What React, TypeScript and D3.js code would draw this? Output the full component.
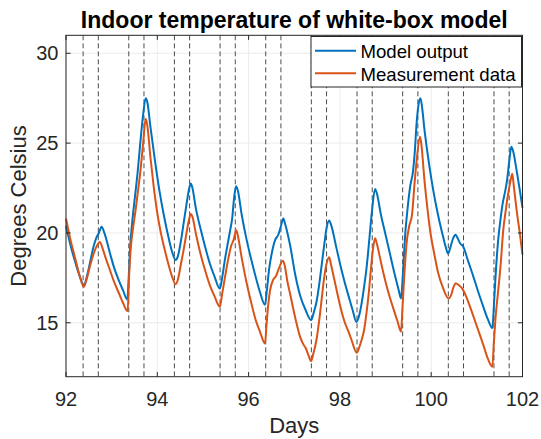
import React from "react";
import * as d3 from "d3";

const xTicks = [92, 94, 96, 98, 100, 102];
const yTicks = [15, 20, 25, 30];
const eventDays = [
  92.375, 92.708, 93.375, 93.708, 94.375, 94.708, 95.375, 95.708, 96.375, 96.708,
  97.375, 97.708, 98.375, 98.708, 99.375, 99.708, 100.375, 100.708, 101.375, 101.708,
];

const modelOutput: [number, number][] = [
  [92.0, 20.4], [92.1, 19.3], [92.2, 18.4], [92.3, 17.6], [92.39, 17.1],
  [92.46, 17.6], [92.53, 18.4], [92.6, 19.2], [92.66, 19.7], [92.72, 20.0], [92.78, 20.35],
  [92.84, 20.0], [92.96, 18.9], [93.05, 18.1], [93.15, 17.4], [93.25, 16.8], [93.34, 16.3],
  [93.37, 17.3], [93.4, 19.0], [93.45, 20.6], [93.51, 22.0], [93.57, 23.4], [93.62, 24.8],
  [93.69, 26.6], [93.745, 27.5], [93.78, 27.3],
  [93.85, 25.9], [93.95, 24.0], [94.05, 22.3], [94.15, 20.9], [94.25, 19.7], [94.33, 18.9], [94.4, 18.5],
  [94.45, 18.7], [94.52, 19.6], [94.58, 20.6], [94.64, 21.6], [94.7, 22.5], [94.735, 22.75], [94.76, 22.6],
  [94.85, 21.3], [94.95, 20.2], [95.05, 19.2], [95.15, 18.3], [95.25, 17.6], [95.37, 16.9],
  [95.42, 17.5], [95.48, 18.5], [95.55, 19.5], [95.6, 20.2], [95.64, 20.8], [95.68, 21.9], [95.725, 22.6], [95.76, 22.4],
  [95.85, 21.0], [95.95, 19.7], [96.05, 18.6], [96.15, 17.6], [96.25, 16.7], [96.36, 16.0],
  [96.4, 16.8], [96.45, 18.0], [96.51, 18.9], [96.58, 19.6], [96.65, 19.9], [96.71, 20.4], [96.76, 20.8],
  [96.8, 20.5], [96.91, 19.3], [97.02, 17.7], [97.13, 16.5], [97.25, 15.7], [97.37, 15.15],
  [97.42, 15.5], [97.49, 16.2], [97.55, 17.2], [97.6, 18.2], [97.66, 19.4], [97.71, 20.3], [97.765, 20.7], [97.8, 20.5],
  [97.93, 19.1], [98.02, 18.1], [98.11, 17.2], [98.2, 16.4], [98.28, 15.7], [98.36, 15.05],
  [98.41, 15.3], [98.47, 16.0], [98.53, 17.0], [98.59, 18.2], [98.65, 19.8], [98.71, 21.4], [98.77, 22.45], [98.81, 22.2],
  [98.9, 21.0], [99.0, 19.9], [99.1, 18.8], [99.2, 17.7], [99.28, 16.9], [99.34, 16.35],
  [99.37, 17.3], [99.4, 18.6], [99.43, 19.9], [99.48, 21.3], [99.54, 22.6], [99.6, 23.4], [99.64, 24.5],
  [99.68, 26.1], [99.72, 27.1], [99.765, 27.5], [99.8, 27.0],
  [99.85, 25.8], [99.95, 23.9], [100.05, 22.3], [100.15, 21.0], [100.25, 19.9], [100.32, 19.2], [100.37, 18.85],
  [100.42, 19.2], [100.48, 19.7], [100.535, 19.9], [100.58, 19.7], [100.64, 19.4], [100.7, 19.25],
  [100.8, 18.5], [100.92, 17.6], [101.02, 16.8], [101.1, 16.2], [101.24, 15.2], [101.34, 14.7],
  [101.37, 15.8], [101.41, 17.6], [101.46, 19.4], [101.52, 20.8], [101.57, 21.7], [101.61, 22.2],
  [101.66, 22.9], [101.71, 24.0], [101.755, 24.8], [101.79, 24.6], [101.87, 23.5], [101.94, 22.4], [102.0, 21.4],
];

const measurementData: [number, number][] = [
  [92.0, 20.8], [92.1, 19.6], [92.2, 18.6], [92.3, 17.6], [92.39, 17.0],
  [92.46, 17.5], [92.53, 18.2], [92.6, 18.8], [92.66, 19.2], [92.745, 19.5], [92.78, 19.3],
  [92.87, 18.6], [92.96, 17.95], [93.05, 17.3], [93.15, 16.7], [93.25, 16.1], [93.35, 15.65],
  [93.38, 17.5], [93.42, 19.2], [93.47, 20.3], [93.51, 21.0], [93.57, 22.2], [93.62, 23.2],
  [93.69, 25.0], [93.745, 26.35], [93.78, 26.0],
  [93.85, 24.2], [93.92, 22.6], [94.0, 21.1], [94.07, 20.1], [94.15, 19.2], [94.25, 18.2], [94.32, 17.6], [94.4, 17.15],
  [94.45, 17.4], [94.52, 18.3], [94.58, 19.1], [94.64, 20.0], [94.7, 20.8], [94.735, 21.05], [94.77, 20.9],
  [94.85, 19.9], [94.95, 18.8], [95.05, 17.9], [95.15, 17.1], [95.25, 16.5], [95.37, 15.9],
  [95.42, 16.6], [95.48, 17.5], [95.55, 18.5], [95.62, 19.3], [95.67, 19.6], [95.73, 20.15], [95.76, 19.9],
  [95.85, 18.6], [95.95, 17.3], [96.05, 16.2], [96.15, 15.2], [96.25, 14.5], [96.36, 13.85],
  [96.39, 14.8], [96.43, 16.0], [96.47, 16.8], [96.54, 17.4], [96.6, 17.6], [96.66, 18.0], [96.75, 18.45], [96.79, 18.2],
  [96.85, 17.3], [96.91, 16.6], [97.02, 15.3], [97.13, 14.2], [97.2, 13.8], [97.25, 13.6], [97.31, 13.2], [97.37, 12.87],
  [97.42, 13.3], [97.49, 14.1], [97.55, 15.2], [97.6, 16.3], [97.65, 17.4], [97.7, 18.2], [97.765, 18.65], [97.8, 18.3],
  [97.87, 17.5], [97.93, 16.8], [98.02, 15.8], [98.11, 15.0], [98.19, 14.5], [98.26, 14.0], [98.37, 13.33],
  [98.42, 13.6], [98.47, 14.0], [98.53, 14.6], [98.58, 15.5], [98.63, 16.6], [98.68, 18.0], [98.72, 19.0], [98.77, 19.7], [98.81, 19.4],
  [98.88, 18.6], [98.95, 17.8], [99.05, 16.8], [99.17, 15.8], [99.26, 15.1], [99.34, 14.5],
  [99.37, 15.8], [99.41, 17.6], [99.46, 19.4], [99.52, 20.4], [99.58, 21.0], [99.63, 22.6], [99.68, 24.0], [99.755, 25.35], [99.79, 24.8],
  [99.85, 23.0], [99.92, 21.3], [99.99, 19.9], [100.07, 18.8], [100.15, 17.8], [100.25, 17.0], [100.38, 16.35],
  [100.43, 16.5], [100.49, 17.0], [100.535, 17.2], [100.6, 17.1], [100.68, 16.9],
  [100.76, 16.5], [100.85, 15.9], [100.96, 15.1], [101.07, 14.3], [101.15, 13.7], [101.22, 13.15], [101.34, 12.55],
  [101.37, 13.8], [101.41, 15.3], [101.46, 16.6], [101.52, 18.2], [101.58, 20.2], [101.63, 21.2], [101.68, 22.1],
  [101.73, 22.8], [101.775, 23.3], [101.81, 22.6], [101.87, 21.3], [101.94, 20.0], [102.0, 18.8],
];

const seriesNames = ["Model output", "Measurement data"];
const seriesColors = ["#0072BD", "#D95319"];

const W = 541;
const H = 439;
const L = 66, R = 522.5, T = 35.3, B = 376.7;
const FONT = "'Liberation Sans', Arial, Helvetica, sans-serif";
const TXT = "#262626";

export default function App() {
  const x = d3.scaleLinear().domain([92, 102]).range([L, R]);
  const y = d3.scaleLinear().domain([12, 31]).range([B, T]);
  const line = d3
    .line<[number, number]>()
    .x((d) => x(d[0]))
    .y((d) => y(d[1]))
    .curve(d3.curveMonotoneX);
  const tickLen = 4.6;

  return (
    <svg
      width={W}
      height={H}
      style={{ position: "absolute", left: 0, top: 0, background: "#fff" }}
      fontFamily={FONT}
    >
      <rect x={0} y={0} width={W} height={H} fill="#fff" />
      <rect x={L} y={T} width={R - L} height={B - T} fill="#fff" />
      {xTicks.map((t) => (
        <line key={"gx" + t} x1={x(t)} x2={x(t)} y1={T} y2={B} stroke="#ebebeb" strokeWidth={1} />
      ))}
      {yTicks.map((t) => (
        <line key={"gy" + t} x1={L} x2={R} y1={y(t)} y2={y(t)} stroke="#ebebeb" strokeWidth={1} />
      ))}
      {eventDays.map((d) => (
        <line
          key={"ev" + d}
          x1={x(d)}
          x2={x(d)}
          y1={T}
          y2={B}
          stroke="#4d4d4d"
          strokeWidth={1}
          strokeDasharray="5,3"
        />
      ))}
      <path d={line(modelOutput) || ""} fill="none" stroke={seriesColors[0]} strokeWidth={2} />
      <path d={line(measurementData) || ""} fill="none" stroke={seriesColors[1]} strokeWidth={2} />
      <rect x={L} y={T} width={R - L} height={B - T} fill="none" stroke={TXT} strokeWidth={1} />
      {xTicks.map((t) => (
        <g key={"tx" + t}>
          <line x1={x(t)} x2={x(t)} y1={B} y2={B - tickLen} stroke={TXT} />
          <line x1={x(t)} x2={x(t)} y1={T} y2={T + tickLen} stroke={TXT} />
          <text x={x(t)} y={406} textAnchor="middle" fontSize={20} fill={TXT}>
            {t}
          </text>
        </g>
      ))}
      {yTicks.map((t) => (
        <g key={"ty" + t}>
          <line x1={L} x2={L + tickLen} y1={y(t)} y2={y(t)} stroke={TXT} />
          <line x1={R} x2={R - tickLen} y1={y(t)} y2={y(t)} stroke={TXT} />
          <text x={58.5} y={y(t) + 7} textAnchor="end" fontSize={20} fill={TXT}>
            {t}
          </text>
        </g>
      ))}
      <text x={(L + R) / 2} y={433} textAnchor="middle" fontSize={22} fill={TXT}>
        Days
      </text>
      <text
        transform={`translate(25.5, ${(T + B) / 2}) rotate(-90)`}
        textAnchor="middle"
        fontSize={22}
        fill={TXT}
      >
        Degrees Celsius
      </text>
      <text x={(L + R) / 2} y={27.5} textAnchor="middle" fontSize={23} fontWeight="bold" fill="#000">
        Indoor temperature of white-box model
      </text>
      <rect x={311} y={36.5} width={210.5} height={50.5} fill="#fff" stroke={TXT} strokeWidth={1} />
      {seriesNames.map((n, i) => (
        <g key={n}>
          <line x1={315} x2={356} y1={50.7 + i * 22.6} y2={50.7 + i * 22.6} stroke={seriesColors[i]} strokeWidth={2} />
          <text x={360.5} y={58 + i * 22.6} fontSize={18.6} fill="#000">
            {n}
          </text>
        </g>
      ))}
    </svg>
  );
}
